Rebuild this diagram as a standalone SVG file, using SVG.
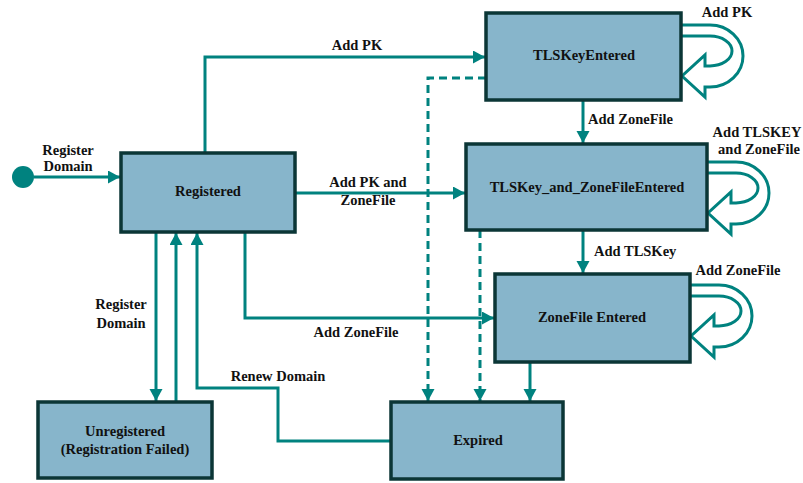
<svg xmlns="http://www.w3.org/2000/svg" width="803" height="483" viewBox="0 0 803 483">
<defs>
<style>
.box{fill:#87b5cb;stroke:#0b3636;stroke-width:3.5}
.ln{fill:none;stroke:#00827f;stroke-width:3}
.dash{fill:none;stroke:#00827f;stroke-width:3;stroke-dasharray:8 5}
.loop{fill:#ffffff;stroke:#00827f;stroke-width:3;stroke-linejoin:miter}
text{font-family:"Liberation Serif","Times New Roman",serif;font-weight:bold;font-size:14.5px;fill:#111}
.m{text-anchor:middle}
</style>
<marker id="ah" markerUnits="userSpaceOnUse" markerWidth="14" markerHeight="14" refX="12" refY="6.5" orient="auto">
<path d="M0,0 L12,6.5 L0,13 z" fill="#00827f"/>
</marker>
<path id="loopShape" d="M0,0 H29 A33 31 0 0 1 29,62 H24 V72 L1,51 L24,30 V41 H29 A22 15 0 0 0 29,11 H0"/>
</defs>
<rect width="803" height="483" fill="#ffffff"/>
<g id="connectors">
<circle cx="23" cy="177" r="11" fill="#00827f"/>
<path class="ln" d="M34,177 H120" marker-end="url(#ah)"/>
<path class="ln" d="M205,153 V57 H485" marker-end="url(#ah)"/>
<path class="ln" d="M295,193 H465" marker-end="url(#ah)"/>
<path class="dash" d="M486,78 H428 V401" marker-end="url(#ah)"/>
<path class="dash" d="M480,230 V401" marker-end="url(#ah)"/>
<path class="ln" d="M530,362 V401" marker-end="url(#ah)"/>
<path class="ln" d="M583,100 V143" marker-end="url(#ah)"/>
<path class="ln" d="M583,230 V273" marker-end="url(#ah)"/>
<path class="ln" d="M245,232 V318 H494" marker-end="url(#ah)"/>
<path class="ln" d="M156,232 V401" marker-end="url(#ah)"/>
<path class="ln" d="M176,402 V233" marker-end="url(#ah)"/>
<path class="ln" d="M391,441 H278 V388 H197 V233" marker-end="url(#ah)"/>
<use href="#loopShape" class="loop" transform="translate(681,25)"/>
<use href="#loopShape" class="loop" transform="translate(707,162)"/>
<use href="#loopShape" class="loop" transform="translate(690,285)"/>
<text class="m" x="68" y="155">Register</text>
<text class="m" x="68" y="171">Domain</text>
<text class="m" x="357" y="50">Add PK</text>
<text class="m" x="368" y="187">Add PK and</text>
<text class="m" x="368" y="205">ZoneFile</text>
<text x="588" y="124">Add ZoneFile</text>
<text x="594" y="256">Add TLSKey</text>
<text class="m" x="356" y="337">Add ZoneFile</text>
<text class="m" x="121" y="309">Register</text>
<text class="m" x="121" y="328">Domain</text>
<text class="m" x="278" y="381">Renew Domain</text>
<text class="m" x="727" y="17">Add PK</text>
<text class="m" x="757" y="137">Add TLSKEY</text>
<text class="m" x="759" y="154">and ZoneFile</text>
<text class="m" x="738" y="275">Add ZoneFile</text>
</g>
<g id="registered">
<rect class="box" x="121" y="153" width="174" height="79"/>
<text class="m" x="208" y="196">Registered</text>
</g>
<g id="tlskeyentered">
<rect class="box" x="486" y="13" width="195" height="87"/>
<text class="m" x="584" y="60">TLSKeyEntered</text>
</g>
<g id="tlskey_and_zonefileentered">
<rect class="box" x="466" y="144" width="241" height="86"/>
<text class="m" x="587" y="192">TLSKey_and_ZoneFileEntered</text>
</g>
<g id="zonefileentered">
<rect class="box" x="495" y="274" width="195" height="88"/>
<text class="m" x="592" y="322">ZoneFile Entered</text>
</g>
<g id="unregistered">
<rect class="box" x="38" y="402" width="174" height="76"/>
<text class="m" x="125" y="436">Unregistered</text>
<text class="m" x="125" y="454">(Registration Failed)</text>
</g>
<g id="expired">
<rect class="box" x="391" y="402" width="172" height="77"/>
<text class="m" x="478" y="445">Expired</text>
</g>
</svg>
